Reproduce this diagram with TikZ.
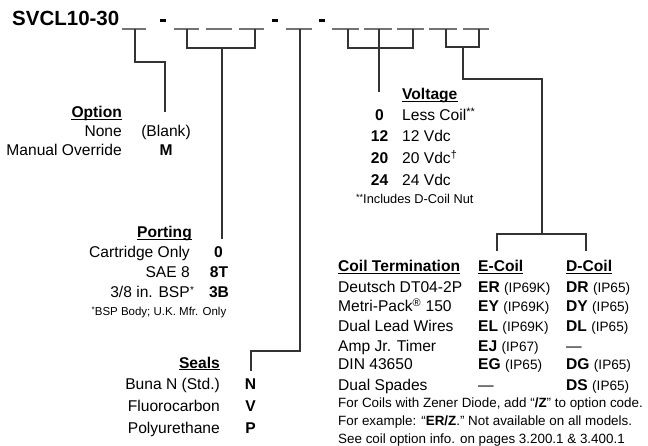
\documentclass[tikz,border=0pt]{standalone}
\usepackage{fontspec}
\setmainfont{Liberation Sans}
\begin{document}
\begin{tikzpicture}[x=1pt,y=-1pt,
  txt/.style={inner sep=0pt,font=\fontsize{15.6}{18}\selectfont},
  lt/.style={txt,anchor=base west},
  rt/.style={txt,anchor=base east},
  ct/.style={txt,anchor=base},
  code/.style={txt,anchor=base,font=\fontsize{15.6}{18}\selectfont\bfseries},
  head/.style={txt,font=\fontsize{15.6}{18}\selectfont\bfseries},
  note/.style={inner sep=0pt,anchor=base west,font=\fontsize{13.4}{16}\selectfont},
  blank/.style={draw=black!55,line width=1.6pt},
  dsh/.style={draw=black,line width=2.6pt},
  ul/.style={draw=black,line width=1.2pt},
  conn/.style={draw=black!80,line width=1.3pt}]
\useasboundingbox (0,0) rectangle (648,446);

% title
\node[inner sep=0pt,anchor=base west,font=\fontsize{20.5}{24}\selectfont\bfseries] (title) at (12,26) {SVCL10-30};

% blanks
\foreach \n/\a/\b in {1/122/146,2/174/199,3/206/232,4/239/264,5/286/312,6/332/359,7/364/392,8/397/424,9/429/457,10/463/489}{
  \coordinate (bl\n) at (\a,29);
  \coordinate (br\n) at (\b,29);
  \draw[blank] (bl\n) -- (br\n);
}
% dashes
\foreach \n/\x in {1/163,2/275,3/322}{
  \coordinate (d\n a) at (\x-2.6,20.5);
  \coordinate (d\n b) at (\x+2.6,20.5);
  \draw[dsh] (d\n a) -- (d\n b);
}

% Option
\node[head,anchor=base east] (opt) at (122,118) {Option};
\node[rt] (none) at (122,137) {None};
\node[ct] (blank) at (166,137) {(Blank)};
\node[rt] (man) at (122,156) {Manual Override};
\node[code] (m) at (166,156) {M};
\coordinate (o1) at (135,29);
\coordinate (o2) at (135,62);
\coordinate (o3) at (165,62);
\coordinate (o4) at (165,112);
\draw[conn] (o1) -- (o2) -- (o3) -- (o4);

% Porting
\node[head,anchor=base east] (port) at (192,238) {Porting};
\node[rt] (cart) at (190,258) {Cartridge Only};
\node[code] (c0) at (218.5,258) {0};
\node[rt] (sae) at (190,278) {SAE 8};
\node[code] (c8t) at (219,278) {8T};
\node[rt] (bsp) at (190,298) {3/8 in. BSP};
\node[inner sep=0pt,anchor=base west,font=\fontsize{10}{12}\selectfont] (bspst) at (bsp.base east) {\raisebox{4pt}{*}};
\node[code] (c3b) at (219,298) {3B};
\node[inner sep=0pt,anchor=base,font=\fontsize{11.5}{13}\selectfont] (bspn) at (159,316) {\raisebox{3pt}{\fontsize{8}{9}\selectfont*}BSP Body; U.K. Mfr. Only};
\coordinate (p1) at (187,29);
\coordinate (p2) at (187,48);
\coordinate (p3) at (255,48);
\coordinate (p4) at (255,29);
\coordinate (p5) at (222,48);
\coordinate (p6) at (222,239);
\draw[conn] (p1) -- (p2) -- (p3) -- (p4);
\draw[conn] (p5) -- (p6);

% Seals
\node[head,anchor=base east] (seal) at (220,368) {Seals};
\node[rt] (buna) at (220,389) {Buna N (Std.)};
\node[code] (sn) at (250.5,389) {N};
\node[rt] (fluo) at (220,411) {Fluorocarbon};
\node[code] (sv) at (250.5,411) {V};
\node[rt] (poly) at (220,433) {Polyurethane};
\node[code] (sp) at (250.5,433) {P};
\coordinate (s1) at (300,29);
\coordinate (s2) at (300,351);
\coordinate (s3) at (251,351);
\coordinate (s4) at (251,371);
\draw[conn] (s1) -- (s2) -- (s3) -- (s4);

% Voltage
\node[head,anchor=base west] (volt) at (402,100) {Voltage};
\node[code] (v0) at (379.5,121) {0};
\node[lt] (lc) at (402,121) {Less Coil\textsuperscript{**}};
\node[code] (v12) at (379.5,142) {12};
\node[lt] (l12) at (402,142) {12 Vdc};
\node[code] (v20) at (379.5,164) {20};
\node[lt] (l20) at (402,164) {20 Vdc\textsuperscript{†}};
\node[code] (v24) at (379.5,186) {24};
\node[lt] (l24) at (402,186) {24 Vdc};
\node[inner sep=0pt,anchor=base west,font=\fontsize{12.8}{15}\selectfont] (vn) at (356,204) {\raisebox{3pt}{\fontsize{9}{10}\selectfont**}Includes D-Coil Nut};
\coordinate (w1) at (348,29);
\coordinate (w2) at (348,48);
\coordinate (w3) at (413,48);
\coordinate (w4) at (413,29);
\coordinate (w5) at (379,29);
\coordinate (w6) at (379,92);
\draw[conn] (w1) -- (w2) -- (w3) -- (w4);
\draw[conn] (w5) -- (w6);

% Coil termination
\node[head,anchor=base west] (ct) at (338,272) {Coil Termination};
\node[head,anchor=base west] (ec) at (478,272) {E-Coil};
\node[head,anchor=base west] (dc) at (566,272) {D-Coil};
\foreach \y/\t/\e/\d in {
  293/{Deutsch DT04-2P}/{\textbf{ER} {\fontsize{13.6}{16}\selectfont(IP69K)}}/{\textbf{DR} {\fontsize{13.6}{16}\selectfont(IP65)}},
  312/{Metri-Pack\textsuperscript{®} 150}/{\textbf{EY} {\fontsize{13.6}{16}\selectfont(IP69K)}}/{\textbf{DY} {\fontsize{13.6}{16}\selectfont(IP65)}},
  331/{Dual Lead Wires}/{\textbf{EL} {\fontsize{13.6}{16}\selectfont(IP69K)}}/{\textbf{DL} {\fontsize{13.6}{16}\selectfont(IP65)}},
  352/{Amp Jr. Timer}/{\textbf{EJ} {\fontsize{13.6}{16}\selectfont(IP67)}}/{—},
  370/{DIN 43650}/{\textbf{EG} {\fontsize{13.6}{16}\selectfont(IP65)}}/{\textbf{DG} {\fontsize{13.6}{16}\selectfont(IP65)}},
  390/{Dual Spades}/{—}/{\textbf{DS} {\fontsize{13.6}{16}\selectfont(IP65)}}}{
  \node[lt] (t\y) at (338,\y) {\t};
  \node[lt] (e\y) at (478,\y) {\e};
  \node[lt] (d\y) at (566,\y) {\d};
}
\node[note] (n1) at (338,407.5) {For Coils with Zener Diode, add “\textbf{/Z}” to option code.};
\node[note] (n2) at (338,425.5) {For example: “\textbf{ER/Z}.” Not available on all models.};
\node[note] (n3) at (338,443.2) {See coil option info. on pages 3.200.1 \& 3.400.1};
\coordinate (k1) at (446,29);
\coordinate (k2) at (446,47);
\coordinate (k3) at (479,47);
\coordinate (k4) at (479,29);
\coordinate (k5) at (463,47);
\coordinate (k6) at (463,79);
\coordinate (k7) at (542,79);
\coordinate (k8) at (542,234);
\coordinate (k9) at (497,251);
\coordinate (k10) at (497,234);
\coordinate (k11) at (586,234);
\coordinate (k12) at (586,251);
\draw[conn] (k1) -- (k2) -- (k3) -- (k4);
\draw[conn] (k5) -- (k6) -- (k7) -- (k8);
\draw[conn] (k9) -- (k10) -- (k11) -- (k12);

% heading underlines
\foreach \h in {opt,port,seal,volt,ct,ec,dc}{
  \draw[ul] ([yshift=-1.7pt]\h.base west) -- ([yshift=-1.7pt]\h.base east);
}
\end{tikzpicture}
\end{document}
